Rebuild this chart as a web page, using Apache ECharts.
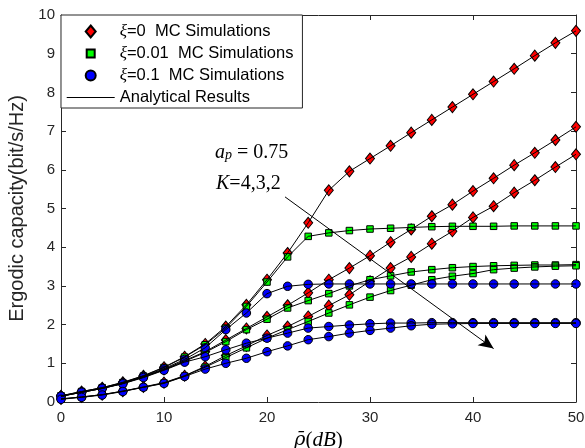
<!DOCTYPE html>
<html><head><meta charset="utf-8">
<script src="https://cdn.jsdelivr.net/npm/echarts@6/dist/echarts.min.js"></script>
<style>html,body{margin:0;padding:0;background:#fff}#c{width:585px;height:448px}</style>
</head><body><div id="c"></div>
<script>
// SNR grid (dB)
const snr = [0,2,4,6,8,10,12,14,16,18,20,22,24,26,28,30,32,34,36,38,40,42,44,46,48,50];
// xi = 0 (perfect CSI)
const xi0_K4 = [0.16,0.27,0.37,0.51,0.68,0.90,1.17,1.50,1.95,2.51,3.16,3.85,4.63,5.47,5.96,6.29,6.62,6.96,7.29,7.62,7.95,8.28,8.61,8.95,9.28,9.59];
const xi0_K3 = [0.15,0.25,0.35,0.48,0.65,0.84,1.07,1.30,1.60,1.90,2.20,2.50,2.82,3.16,3.46,3.78,4.13,4.46,4.80,5.10,5.45,5.78,6.12,6.44,6.77,7.11];
const xi0_K2 = [0.08,0.13,0.19,0.28,0.39,0.50,0.68,0.92,1.20,1.45,1.72,1.95,2.21,2.49,2.77,3.12,3.46,3.75,4.09,4.41,4.77,5.06,5.41,5.73,6.07,6.40];
// xi = 0.01
const xi001_K4 = [0.16,0.27,0.37,0.50,0.67,0.89,1.16,1.48,1.91,2.47,3.10,3.75,4.28,4.37,4.43,4.47,4.49,4.51,4.53,4.54,4.54,4.54,4.55,4.55,4.55,4.55];
const xi001_K3 = [0.15,0.25,0.35,0.48,0.64,0.83,1.05,1.28,1.56,1.87,2.14,2.43,2.62,2.80,3.00,3.16,3.26,3.36,3.42,3.47,3.50,3.52,3.53,3.54,3.54,3.55];
const xi001_K2 = [0.08,0.13,0.19,0.28,0.38,0.49,0.67,0.90,1.15,1.40,1.65,1.87,2.08,2.30,2.51,2.71,2.88,3.02,3.16,3.25,3.32,3.42,3.46,3.49,3.51,3.52];
// xi = 0.1
const xi01_K4 = [0.15,0.26,0.36,0.49,0.66,0.86,1.10,1.40,1.87,2.30,2.80,2.99,3.04,3.05,3.05,3.05,3.05,3.05,3.05,3.05,3.05,3.05,3.05,3.05,3.05,3.05];
const xi01_K3 = [0.15,0.25,0.35,0.47,0.63,0.82,1.03,1.17,1.35,1.52,1.65,1.78,1.91,1.95,1.99,2.02,2.04,2.04,2.05,2.05,2.05,2.05,2.05,2.05,2.05,2.05];
const xi01_K2 = [0.07,0.12,0.18,0.27,0.38,0.48,0.66,0.85,1.00,1.13,1.30,1.45,1.61,1.69,1.78,1.85,1.91,1.97,2.01,2.02,2.03,2.03,2.03,2.03,2.03,2.03];

const legendNames = ['ξ=0  MC Simulations','ξ=0.01  MC Simulations','ξ=0.1  MC Simulations','Analytical Results'];
const yName = 'Ergodic capacity(bit/s/Hz)';
// annotation anchor positions (data space)
const annotPos1 = [14.95, 6.44];
const annotPos2 = [15.05, 5.63];
const arrowFrom = [21.75, 5.30];
const arrowTo = [42.0, 1.38];

const pairs = arr => snr.map((x, i) => [x, arr[i]]);
const groups = [
  {name: legendNames[0], curves: [xi0_K4, xi0_K3, xi0_K2], color: '#ff0000', symbol: 'diamond', size: [9, 11]},
  {name: legendNames[1], curves: [xi001_K4, xi001_K3, xi001_K2], color: '#00ff00', symbol: 'rect', size: 6.5},
  {name: legendNames[2], curves: [xi01_K4, xi01_K3, xi01_K2], color: '#0000ff', symbol: 'circle', size: 8.5}
];

const series = [];
groups.forEach((g, gi) => {
  series.push({
    type: 'scatter', name: g.name, symbol: g.symbol, symbolSize: g.size, z: 2 + gi * 0.1,
    itemStyle: {color: g.color, borderColor: '#000', borderWidth: 1, opacity: 1},
    data: [].concat(...g.curves.map(pairs)), silent: true
  });
});
groups.forEach(g => g.curves.forEach(c => {
  series.push({
    type: 'line', name: legendNames[3], showSymbol: false, symbol: 'none', z: 5, silent: true,
    lineStyle: {color: '#000', width: 1}, itemStyle: {color: '#000'},
    data: pairs(c)
  });
}));
const serif = 'Liberation Serif';
series.push({
  type: 'scatter', name: 'annot', data: [], silent: true, z: 6,
  markLine: {
    silent: true, animation: false, symbol: ['none', 'arrow'],
    lineStyle: {color: '#000', width: 1, type: 'solid'}, label: {show: false},
    data: [[{coord: arrowFrom, symbol: 'none'}, {coord: arrowTo, symbol: 'arrow', symbolSize: [10, 15]}]]
  },
  markPoint: {
    silent: true, animation: false, symbol: 'circle', symbolSize: 0,
    label: {show: true, position: 'right', distance: 0, color: '#000'},
    data: [
      {coord: annotPos1, label: {formatter: '{i|a}{s|p}{n| = 0.75}', rich: {
        i: {fontFamily: serif, fontStyle: 'italic', fontSize: 20, lineHeight: 20, verticalAlign: 'bottom'},
        s: {fontFamily: serif, fontStyle: 'italic', fontSize: 14, lineHeight: 10, verticalAlign: 'bottom'},
        n: {fontFamily: serif, fontSize: 20, lineHeight: 20, verticalAlign: 'bottom'}}}},
      {coord: annotPos2, label: {formatter: '{i|K}{n|=4,3,2}', rich: {
        i: {fontFamily: serif, fontStyle: 'italic', fontSize: 20, lineHeight: 20},
        n: {fontFamily: serif, fontSize: 20, lineHeight: 20}}}}
    ]
  }
});

const axisCol = '#262626';
const baseAxis = {
  type: 'value', splitLine: {show: false},
  axisLine: {show: true, onZero: false, lineStyle: {color: axisCol, width: 1}},
  axisTick: {show: true, inside: true, length: 5, lineStyle: {color: axisCol, width: 1}},
  axisLabel: {fontSize: 15, color: axisCol, fontFamily: 'Liberation Sans'}
};
const diamondIcon = 'path://M5,0L10,6L5,12L0,6Z';
const squareIcon = 'path://M0,0M12,12M2,2L10,2L10,10L2,10Z';
const circleIcon = 'path://M0,0M12,12M1,6A5,5,0,1,1,11,6A5,5,0,1,1,1,6Z';
const lineIcon = 'path://M0,5.5L48,5.5L48,6.5L0,6.5Z';

const chart = echarts.init(document.getElementById('c'), null, {renderer: 'canvas'});
chart.setOption({
  animation: false,
  backgroundColor: '#fff',
  grid: {left: 61, right: 9, top: 15, bottom: 46, containLabel: false, outerBoundsMode: 'none'},
  xAxis: [
    Object.assign({}, baseAxis, {min: 0, max: 50, interval: 10, position: 'bottom',
      axisLabel: Object.assign({}, baseAxis.axisLabel, {margin: 8}),
      name: '{r|ρ\u0304}{p|(}{i|dB}{p|)}', nameLocation: 'middle', nameGap: 24,
      nameTextStyle: {fontSize: 20, color: '#000', rich: {
        r: {fontFamily: 'DejaVu Serif', fontStyle: 'italic', fontSize: 19, color: '#000'},
        p: {fontFamily: serif, fontSize: 21, color: '#000'},
        i: {fontFamily: serif, fontStyle: 'italic', fontSize: 21, color: '#000'}}}}),
    Object.assign({}, baseAxis, {min: 0, max: 50, interval: 10, position: 'top', axisLabel: {show: false}})
  ],
  yAxis: [
    Object.assign({}, baseAxis, {min: 0, max: 10, interval: 1, position: 'left',
      axisLabel: Object.assign({}, baseAxis.axisLabel, {margin: 6}),
      name: yName, nameLocation: 'middle', nameGap: 25,
      nameTextStyle: {fontFamily: 'Liberation Sans', fontSize: 20, color: axisCol}}),
    Object.assign({}, baseAxis, {min: 0, max: 10, interval: 1, position: 'right', axisLabel: {show: false}})
  ],
  legend: {
    show: true, orient: 'vertical', left: 61, top: 15,
    padding: [8, 9, 2, 5.7], itemGap: 5, itemWidth: 48, itemHeight: 12,
    backgroundColor: '#fff', borderColor: axisCol, borderWidth: 1, borderRadius: 0,
    selectedMode: false,
    textStyle: {fontFamily: 'Liberation Sans', fontSize: 16.5, lineHeight: 17, color: '#000',
      rich: {x: {fontFamily: serif, fontStyle: 'italic', fontSize: 17, lineHeight: 17, color: '#000'}}},
    formatter: n => n.replace('ξ', '{x|ξ}'),
    data: [
      {name: legendNames[0], icon: diamondIcon},
      {name: legendNames[1], icon: squareIcon},
      {name: legendNames[2], icon: circleIcon},
      {name: legendNames[3], icon: lineIcon, itemStyle: {color: '#000', borderWidth: 0}}
    ]
  },
  series: series
});
</script></body></html>
